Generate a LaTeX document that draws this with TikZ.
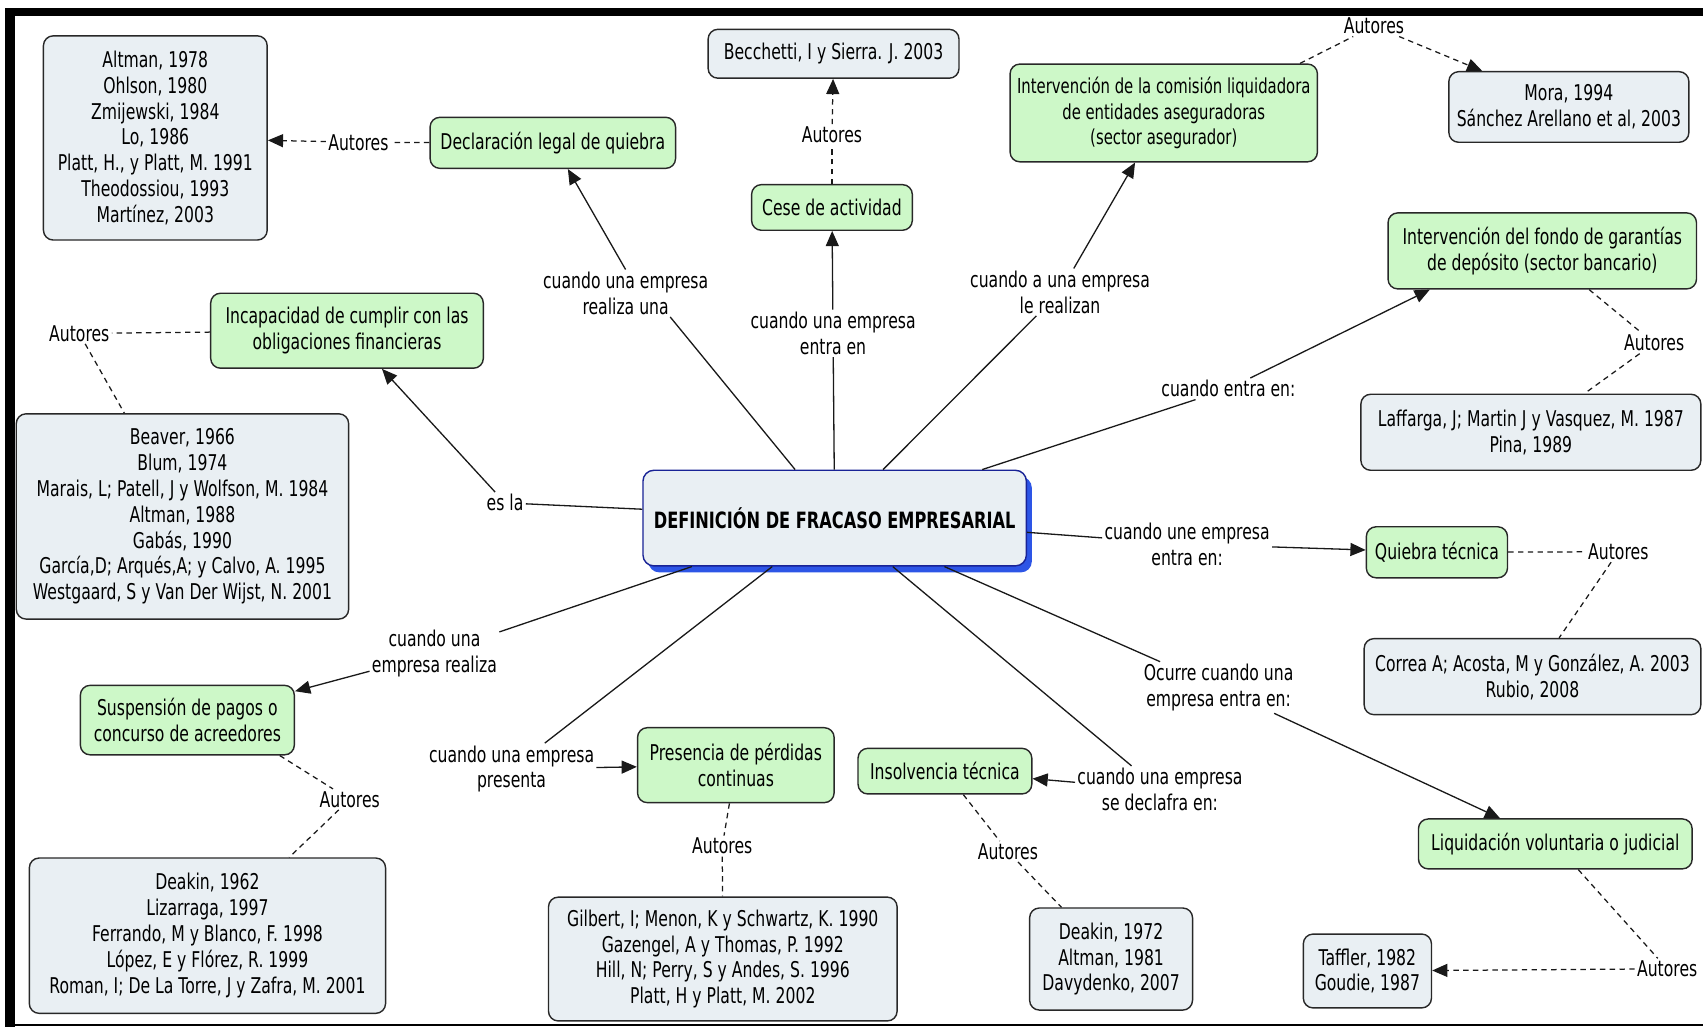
\documentclass[tikz,border=0pt]{standalone}
\usepackage{fontspec}
\setmainfont{DejaVu Sans}[FakeStretch=0.72]
\usetikzlibrary{arrows.meta,shadows}
\definecolor{cgreen}{RGB}{205,248,200}
\definecolor{cgray}{RGB}{233,239,243}
\definecolor{cborder}{RGB}{40,40,40}
\definecolor{cblue}{RGB}{25,35,150}
\definecolor{cshadow}{RGB}{45,85,230}
\begin{document}
\begin{tikzpicture}[x=1pt,y=-1pt,
  every node/.style={font=\fontsize{20}{23.8}\selectfont},
  box/.style={draw=cborder, line width=1.3pt, rounded corners=9pt, align=center, inner sep=0pt},
  concept/.style={box, fill=cgreen},
  authors/.style={box, fill=cgray},
  phrase/.style={align=center, inner sep=2pt},
  link/.style={draw=black!90, line width=1.2pt},
  arr/.style={link, -{Triangle[length=14pt,width=12pt]}},
  dsh/.style={link, line width=1.15pt, dash pattern=on 5pt off 4pt},
  darr/.style={dsh, -{Triangle[length=14pt,width=12pt]}},
]
\useasboundingbox (0,0) rectangle (1568,946);
\fill[white] (0,0) rectangle (1568,946);
% frame
\fill[black] (4.6,7.5) rectangle (1568,14.7);
\fill[black] (4.6,7.5) rectangle (13.5,946);
\fill[black] (4.6,942.5) rectangle (1568,945);

% centre
\node[draw=cblue, line width=1.3pt, rounded corners=10pt, fill=cgray,
  minimum width=353pt, minimum height=88pt, inner sep=0pt,
  drop shadow={shadow xshift=5pt, shadow yshift=-6pt, fill=cshadow, opacity=1},
  font=\fontsize{20.7}{23.8}\selectfont\bfseries] (ctr) at (768.5,477) {DEFINICIÓN DE FRACASO EMPRESARIAL};

% concepts
\node[concept, minimum width=226pt, minimum height=47pt] (B) at (509,131.5) {Declaración legal de quiebra};
\node[concept, minimum width=148pt, minimum height=42pt] (D) at (766,191) {Cese de actividad};
\node[concept, minimum width=283pt, minimum height=90pt, font=\fontsize{19}{23.8}\selectfont] (E) at (1071.5,104) {Intervención de la comisión liquidadora\\de entidades aseguradoras\\(sector asegurador)};
\node[concept, minimum width=284pt, minimum height=70pt] (G) at (1420,231) {Intervención del fondo de garantías\\de depósito (sector bancario)};
\node[concept, minimum width=130pt, minimum height=47pt] (I) at (1323,508.5) {Quiebra técnica};
\node[concept, minimum width=252pt, minimum height=46pt] (K) at (1432,777) {Liquidación voluntaria o judicial};
\node[concept, minimum width=160pt, minimum height=42pt] (M) at (870,710) {Insolvencia técnica};
\node[concept, minimum width=181pt, minimum height=69pt] (O) at (677.5,704.5) {Presencia de pérdidas\\continuas};
\node[concept, minimum width=197pt, minimum height=64pt] (Q) at (172.5,663) {Suspensión de pagos o\\concurso de acreedores};
\node[concept, minimum width=251pt, minimum height=69pt] (S) at (319.5,304.5) {Incapacidad de cumplir con las\\obligaciones financieras};

% authors
\node[authors, minimum width=206pt, minimum height=188pt] (A) at (143,127) {Altman, 1978\\Ohlson, 1980\\Zmijewski, 1984\\Lo, 1986\\Platt, H., y Platt, M. 1991\\Theodossiou, 1993\\Martínez, 2003};
\node[authors, minimum width=231pt, minimum height=45pt] (C) at (767.5,49.5) {Becchetti, I y Sierra. J. 2003};
\node[authors, minimum width=221pt, minimum height=65pt] (F) at (1444.5,98.5) {Mora, 1994\\Sánchez Arellano et al, 2003};
\node[authors, minimum width=313pt, minimum height=70pt] (H) at (1409.5,398) {Laffarga, J; Martin J y Vasquez, M. 1987\\Pina, 1989};
\node[authors, minimum width=310pt, minimum height=70pt] (J) at (1411,623) {Correa A; Acosta, M y González, A. 2003\\Rubio, 2008};
\node[authors, minimum width=118pt, minimum height=68pt] (L) at (1259,894) {Taffler, 1982\\Goudie, 1987};
\node[authors, minimum width=150pt, minimum height=94pt] (N) at (1023,883) {Deakin, 1972\\Altman, 1981\\Davydenko, 2007};
\node[authors, minimum width=321pt, minimum height=114pt] (P) at (665.5,883) {Gilbert, I; Menon, K y Schwartz, K. 1990\\Gazengel, A y Thomas, P. 1992\\Hill, N; Perry, S y Andes, S. 1996\\Platt, H y Platt, M. 2002};
\node[authors, minimum width=328pt, minimum height=143pt] (R) at (191,861.5) {Deakin, 1962\\Lizarraga, 1997\\Ferrando, M y Blanco, F. 1998\\López, E y Flórez, R. 1999\\Roman, I; De La Torre, J y Zafra, M. 2001};
\node[authors, minimum width=306pt, minimum height=189pt] (T) at (168,475.5) {Beaver, 1966\\Blum, 1974\\Marais, L; Patell, J y Wolfson, M. 1984\\Altman, 1988\\Gabás, 1990\\García,D; Arqués,A; y Calvo, A. 1995\\Westgaard, S y Van Der Wijst, N. 2001};

% linking phrases
\node[phrase] (l1) at (465,463) {es la};
\node[phrase] (l2) at (576,270) {cuando una empresa\\realiza una};
\node[phrase] (l3) at (767,307) {cuando una empresa\\entra en};
\node[phrase] (l4) at (976,269) {cuando a una empresa\\le realizan};
\node[phrase] (l5) at (1131,358) {cuando entra en:};
\node[phrase] (l6) at (1093,501) {cuando une empresa\\entra en:};
\node[phrase] (l7) at (1122,633) {Ocurre cuando una\\empresa entra en:};
\node[phrase] (l8) at (1068,727) {cuando una empresa\\se declafra en:};
\node[phrase] (l9) at (471,708) {cuando una empresa\\presenta};
\node[phrase] (l10) at (400,602) {cuando una\\empresa realiza};

% Autores labels
\node[phrase] (a1) at (330,131) {Autores};
\node[phrase] (a2) at (766,124) {Autores};
\node[phrase] (a3) at (1265,24) {Autores};
\node[phrase] (a4) at (1523,316) {Autores};
\node[phrase] (a5) at (1490,508) {Autores};
\node[phrase] (a6) at (1535,892) {Autores};
\node[phrase] (a7) at (928,784) {Autores};
\node[phrase] (a8) at (665,779) {Autores};
\node[phrase] (a9) at (322,736) {Autores};
\node[phrase] (a10) at (73,307) {Autores};

% solid connectors
\draw[link] (ctr) -- (l1);   \draw[arr] (l1) -- (S);
\draw[link] (ctr) -- (l2.-28); \draw[arr] (l2.north) -- (B);
\draw[link] (ctr) -- (l3);   \draw[arr] (l3) -- (D);
\draw[link] (ctr) -- (l4);   \draw[arr] (l4) -- (E);
\draw[link] (ctr) -- (l5);   \draw[arr] (l5) -- (G.199);
\draw[link] (ctr) -- (l6);   \draw[arr] (l6) -- (I);
\draw[link] (ctr) -- (l7);   \draw[arr] (l7) -- (K);
\draw[link] (ctr) -- (l8);   \draw[arr] (l8) -- (M);
\draw[link] (ctr) -- (l9);   \draw[arr] (l9) -- (O);
\draw[link] (ctr) -- (l10);  \draw[arr] (l10) -- (Q);

% dashed connectors
\draw[dsh] (B) -- (a1);  \draw[darr] (a1) -- (A);
\draw[dsh] (D) -- (a2);  \draw[darr] (a2) -- (C);
\draw[dsh] (E.20) -- (a3);  \draw[darr] (a3) -- (F);
\draw[dsh] (G) -- (a4);  \draw[dsh] (a4) -- (H);
\draw[dsh] (I) -- (a5);  \draw[dsh] (a5) -- (J);
\draw[dsh] (K) -- (a6);  \draw[darr] (a6) -- (L);
\draw[dsh] (M) -- (a7);  \draw[dsh] (a7) -- (N);
\draw[dsh] (O) -- (a8);  \draw[dsh] (a8) -- (P);
\draw[dsh] (Q.-21) -- (a9);  \draw[dsh] (a9) -- (R);
\draw[dsh] (S) -- (a10); \draw[dsh] (a10) -- (T);
\end{tikzpicture}
\end{document}
